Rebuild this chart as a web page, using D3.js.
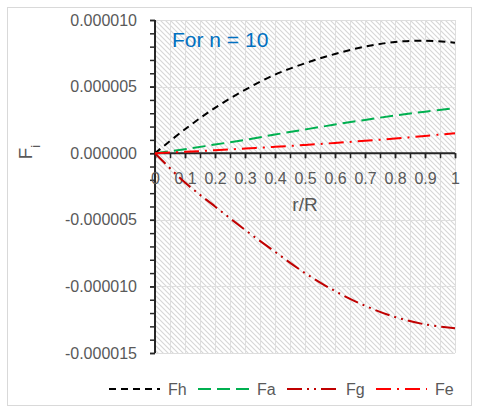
<!DOCTYPE html>
<html>
<head>
<meta charset="utf-8">
<script src="https://cdn.jsdelivr.net/npm/d3@7"></script>
<style>
  body { margin: 0; background: #fff; }
  svg text { font-family: "Liberation Sans", Arial, sans-serif; fill: #595959; }
</style>
</head>
<body>
<div id="chart"></div>
<script>
(function(d3) {
  'use strict';

  // data
  var rValues  = [0, 0.1, 0.2, 0.3, 0.4, 0.5, 0.6, 0.7, 0.8, 0.9, 1.0];
  var fhValues = [0, 1.8e-6, 3.4e-6, 4.75e-6, 5.9e-6, 6.75e-6, 7.45e-6, 8.0e-6, 8.35e-6, 8.45e-6, 8.3e-6];
  var faValues = [0, 0.3e-6, 0.65e-6, 1.0e-6, 1.4e-6, 1.78e-6, 2.15e-6, 2.5e-6, 2.83e-6, 3.12e-6, 3.38e-6];
  var fgValues = [0, -2.2e-6, -4.0e-6, -5.75e-6, -7.4e-6, -9.0e-6, -10.35e-6, -11.45e-6, -12.3e-6, -12.85e-6, -13.15e-6];
  var feValues = [0, 0.1e-6, 0.22e-6, 0.35e-6, 0.48e-6, 0.62e-6, 0.77e-6, 0.93e-6, 1.1e-6, 1.3e-6, 1.5e-6];
  var seriesNames = ['Fh', 'Fa', 'Fg', 'Fe'];
  var yTicks = [-15e-6, -10e-6, -5e-6, 0, 5e-6, 10e-6];
  var xTicks = [0, 0.1, 0.2, 0.3, 0.4, 0.5, 0.6, 0.7, 0.8, 0.9, 1];

  var width = 480, height = 420;
  var left = 155, right = 455, top = 20, bottom = 353;

  var styles = {
    Fh: { color: '#000000', dash: '7,5' },
    Fa: { color: '#00B050', dash: '13,6' },
    Fg: { color: '#C00000', dash: '15,5,2,5,2,5' },
    Fe: { color: '#FF0000', dash: '15,6,2,6' }
  };

  var series = [
    { name: 'Fh', values: fhValues },
    { name: 'Fa', values: faValues },
    { name: 'Fg', values: fgValues },
    { name: 'Fe', values: feValues }
  ];

  var x = d3.scaleLinear().domain([0, 1]).range([left, right]);
  var y = d3.scaleLinear().domain([-15e-6, 10e-6]).range([bottom, top]);

  var svg = d3.select('#chart').append('svg')
    .attr('width', width)
    .attr('height', height);

  // hatch pattern for plot area
  var pat = svg.append('defs').append('pattern')
    .attr('id', 'hatch')
    .attr('patternUnits', 'userSpaceOnUse')
    .attr('width', 5).attr('height', 5);
  pat.append('rect').attr('width', 5).attr('height', 5).attr('fill', '#fff');
  pat.append('path')
    .attr('d', 'M0,0 L5,5 M-1,4 L1,6 M4,-1 L6,1')
    .attr('stroke', '#d6d6d6')
    .attr('stroke-width', 1.1);

  svg.append('rect')
    .attr('x', 7.5).attr('y', 7.5)
    .attr('width', 464).attr('height', 398)
    .attr('fill', '#fff')
    .attr('stroke', '#d9d9d9');

  svg.append('rect')
    .attr('x', left).attr('y', top)
    .attr('width', right - left).attr('height', bottom - top)
    .attr('fill', 'url(#hatch)');

  // gridlines
  var grid = svg.append('g').attr('stroke', '#dedede').attr('stroke-width', 1);
  grid.selectAll('.hg').data(yTicks).enter().append('line')
    .attr('x1', left).attr('x2', right)
    .attr('y1', function(d) { return Math.round(y(d)) + 0.5; })
    .attr('y2', function(d) { return Math.round(y(d)) + 0.5; });
  grid.selectAll('.vg').data(d3.range(1, 21).map(function(i) { return i / 20; })).enter().append('line')
    .attr('y1', top).attr('y2', bottom)
    .attr('x1', function(d) { return Math.round(x(d)) + 0.5; })
    .attr('x2', function(d) { return Math.round(x(d)) + 0.5; });

  // y axis
  var loc = d3.formatLocale({ decimal: '.', thousands: ',', grouping: [3], currency: ['', ''], minus: '-' });
  var yMinor = d3.range(-15, 11).map(function(i) { return i * 1e-6; });
  var yAxisMinor = svg.append('g')
    .attr('transform', 'translate(' + left + ',0)')
    .call(d3.axisLeft(y).tickValues(yMinor).tickSize(5).tickFormat(''));
  var yAxis = svg.append('g')
    .attr('transform', 'translate(' + left + ',0)')
    .call(d3.axisLeft(y).tickValues(yTicks).tickSize(5).tickPadding(13).tickFormat(loc.format('.6f')));
  [yAxisMinor, yAxis].forEach(function(a) {
    a.select('.domain').remove();
    a.selectAll('line').attr('stroke', '#262626').attr('stroke-width', 1.5);
  });
  yAxis.selectAll('text').style('font-size', '16px').attr('fill', '#595959');
  svg.append('line')
    .attr('x1', left).attr('x2', left).attr('y1', top).attr('y2', bottom)
    .attr('stroke', '#262626').attr('stroke-width', 2);

  // x axis at zero
  var xMinor = d3.range(0, 21).map(function(i) { return i / 20; });
  var xAxisMinor = svg.append('g')
    .attr('transform', 'translate(0,' + y(0) + ')')
    .call(d3.axisBottom(x).tickValues(xMinor).tickSize(5).tickFormat(''));
  var xAxis = svg.append('g')
    .attr('transform', 'translate(0,' + y(0) + ')')
    .call(d3.axisBottom(x).tickValues(xTicks).tickSize(5).tickPadding(14).tickFormat(d3.format('~g')));
  [xAxisMinor, xAxis].forEach(function(a) {
    a.select('.domain').remove();
    a.selectAll('line').attr('stroke', '#262626').attr('stroke-width', 1.5);
  });
  xAxis.selectAll('text').style('font-size', '16px').attr('fill', '#595959');
  svg.append('line')
    .attr('x1', left).attr('x2', right).attr('y1', y(0)).attr('y2', y(0))
    .attr('stroke', '#262626').attr('stroke-width', 2);

  // curves
  var line = d3.line()
    .x(function(d, i) { return x(rValues[i]); })
    .y(function(d) { return y(d); })
    .curve(d3.curveCatmullRom);

  svg.selectAll('.series').data(series).enter().append('path')
    .attr('class', 'series')
    .attr('d', function(d) { return line(d.values); })
    .attr('fill', 'none')
    .attr('stroke', function(d) { return styles[d.name].color; })
    .attr('stroke-dasharray', function(d) { return styles[d.name].dash; })
    .attr('stroke-width', 2);

  // titles
  svg.append('text')
    .attr('x', 305).attr('y', 211)
    .attr('text-anchor', 'middle')
    .style('font-size', '19px')
    .text('r/R');

  var yt = svg.append('text')
    .attr('transform', 'translate(32,152) rotate(-90)')
    .attr('text-anchor', 'middle')
    .style('font-size', '19px');
  yt.append('tspan').text('F');
  yt.append('tspan').attr('baseline-shift', 'sub').style('font-size', '13px').text('i');

  svg.append('text')
    .attr('x', 172).attr('y', 47)
    .style('font-size', '21px')
    .style('fill', '#0070C0')
    .text('For n = 10');

  // legend
  var legend = svg.selectAll('.legend').data(seriesNames).enter().append('g')
    .attr('class', 'legend')
    .attr('transform', function(d, i) { return 'translate(' + (109 + i * 89) + ',389)'; });
  legend.append('line')
    .attr('x1', 0).attr('x2', 51)
    .attr('stroke', function(d) { return styles[d].color; })
    .attr('stroke-dasharray', function(d) { return styles[d].dash; })
    .attr('stroke-width', 2);
  legend.append('text')
    .attr('x', 59).attr('dy', '0.35em')
    .style('font-size', '16px')
    .text(function(d) { return d; });
})(window.d3);
</script>
</body>
</html>
